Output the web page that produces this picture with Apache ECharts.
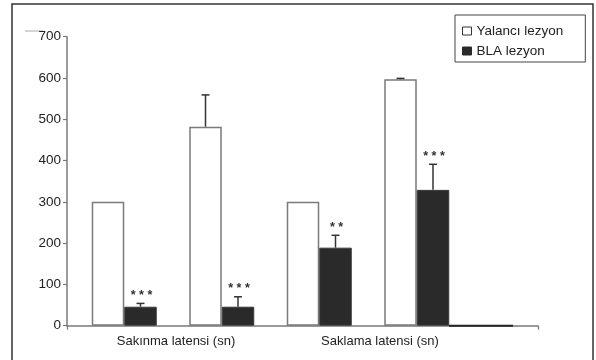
<!DOCTYPE html>
<html><head><meta charset="utf-8">
<script src="https://cdn.jsdelivr.net/npm/echarts@6/dist/echarts.min.js"></script>
<style>html,body{margin:0;padding:0;background:#fff}#c{width:596px;height:360px}</style>
</head><body><div id="c"></div>
<script>
// Data
var conditions = ['Sakınma 1', 'Sakınma 2', 'Saklama 1', 'Saklama 2'];
var groupLabels = ['Sakınma latensi (sn)', 'Saklama latensi (sn)'];
var seriesNames = ['Yalancı lezyon', 'BLA lezyon'];
var shamValues = [300, 482, 300, 597];
var shamErrors = [0, 77, 0, 2];
var blaValues = [46, 46, 189, 329];
var blaErrors = [8, 24, 30, 62];
var blaStars = ['* * *', '* * *', '* *', '* * *'];
var yTicks = [0, 100, 200, 300, 400, 500, 600, 700];

var FONT = '"Liberation Sans", Arial, Helvetica, sans-serif';
var BAR_W = 32.5;
var TOP = 36.7, BOTTOM = 34.3;

function errSeries(vals, errs, sign, stars) {
  return {
    type: 'custom', xAxisIndex: 1, yAxisIndex: 1, z: 5,
    data: vals.map(function (v, i) { return [i, v, errs[i]]; }),
    renderItem: function (params, api) {
      var i = api.value(0), v = api.value(1), e = api.value(2);
      var base = api.coord([i, v]);
      var tip = api.coord([i, v + e]);
      var x = base[0] + sign * BAR_W / 2;
      var children = [];
      if (e > 0) {
        children.push({ type: 'line', shape: { x1: x, y1: base[1], x2: x, y2: tip[1] }, style: { stroke: '#333', lineWidth: 1.5 } });
        children.push({ type: 'line', shape: { x1: x - 4, y1: tip[1], x2: x + 4, y2: tip[1] }, style: { stroke: '#333', lineWidth: 1.5 } });
      }
      if (stars) {
        children.push({ type: 'text', style: { text: stars[i], x: x + 1, y: tip[1] - 8, align: 'center', verticalAlign: 'middle', fill: '#333', font: 'bold 12.5px ' + FONT } });
      }
      return { type: 'group', children: children };
    }
  };
}

var chart = echarts.init(document.getElementById('c'), null, { renderer: 'canvas' });
chart.setOption({
  animation: false,
  textStyle: { fontFamily: FONT },
  grid: [
    { left: 67, right: 58, top: TOP, bottom: BOTTOM },
    { left: 75.5, right: 130.5, top: TOP, bottom: BOTTOM },
    { left: 74, right: 114, top: TOP, bottom: BOTTOM }
  ],
  legend: {
    orient: 'vertical', left: 455, top: 15,
    padding: [9, 22, 4, 7], itemGap: 6, itemWidth: 9, itemHeight: 8,
    borderColor: '#444', borderWidth: 1,
    textStyle: { fontSize: 13.5, color: '#222', fontFamily: FONT },
    data: [
      { name: seriesNames[0], icon: 'rect', itemStyle: { color: '#fff', borderColor: '#333', borderWidth: 1 } },
      { name: seriesNames[1], icon: 'rect', itemStyle: { color: '#2a2a2a', borderColor: '#2a2a2a', borderWidth: 1 } }
    ]
  },
  xAxis: [
    { gridIndex: 0, type: 'value', min: 0, max: 1, interval: 1,
      axisLine: { show: true, lineStyle: { color: '#7a7a7a', width: 1.5 } },
      axisTick: { show: true, length: 4, lineStyle: { color: '#7a7a7a', width: 1.2 } },
      axisLabel: { show: false }, splitLine: { show: false } },
    { gridIndex: 1, type: 'category', data: conditions,
      axisLine: { show: false }, axisTick: { show: false }, axisLabel: { show: false } },
    { gridIndex: 2, type: 'category', data: groupLabels,
      axisLine: { show: false }, axisTick: { show: false },
      axisLabel: { show: true, fontSize: 13, color: '#222', margin: 9, fontFamily: FONT } }
  ],
  yAxis: [
    { gridIndex: 0, type: 'value', min: 0, max: 700, interval: 100,
      axisLine: { show: true, lineStyle: { color: '#7a7a7a', width: 1.5 } },
      axisTick: { show: true, length: 4, lineStyle: { color: '#7a7a7a', width: 1.2 } },
      axisLabel: { fontSize: 13.5, color: '#222', margin: 6, fontFamily: FONT,
        formatter: function (v) { return yTicks.indexOf(v) >= 0 ? String(v) : ''; } },
      splitLine: { show: false } },
    { gridIndex: 1, type: 'value', min: 0, max: 700, show: false, splitLine: { show: false } },
    { gridIndex: 2, type: 'value', min: 0, max: 700, show: false, splitLine: { show: false } }
  ],
  series: [
    { name: seriesNames[0], type: 'bar', xAxisIndex: 1, yAxisIndex: 1, data: shamValues,
      barWidth: BAR_W, barGap: '0%',
      itemStyle: { color: '#fff', borderColor: '#7a7a7a', borderWidth: 1.5 } },
    { name: seriesNames[1], type: 'bar', xAxisIndex: 1, yAxisIndex: 1, data: blaValues,
      barWidth: BAR_W, barGap: '0%',
      itemStyle: { color: '#2a2a2a', borderColor: '#3a3a3a', borderWidth: 1 } },
    errSeries(shamValues, shamErrors, -1, null),
    errSeries(blaValues, blaErrors, 1, blaStars)
  ],
  graphic: [
    { type: 'rect', shape: { x: 12, y: 4, width: 581, height: 400 }, style: { fill: 'none', stroke: '#333', lineWidth: 1.5 }, silent: true },
    { type: 'line', shape: { x1: 25, y1: 31, x2: 43, y2: 31 }, style: { stroke: '#aaa', lineWidth: 1 }, silent: true },
    { type: 'line', shape: { x1: 449, y1: 325.7, x2: 513, y2: 325.7 }, style: { stroke: '#222', lineWidth: 2 }, silent: true, z: 10 }
  ]
});
</script>
</body></html>
